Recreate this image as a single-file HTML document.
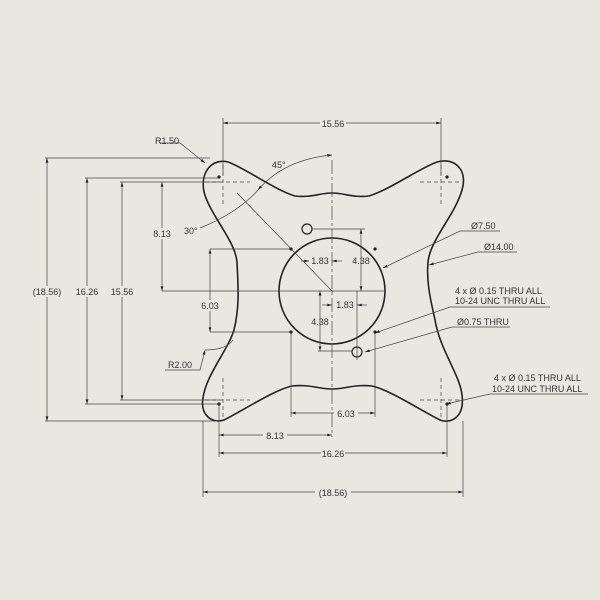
<!DOCTYPE html>
<html><head><meta charset="utf-8"><style>
html,body{margin:0;padding:0;background:#e8e8e1;}
svg{display:block;}
text{font-family:"Liberation Sans",sans-serif;font-size:9px;fill:#333;}
</style></head><body>
<svg width="600" height="600" viewBox="0 0 600 600" xmlns="http://www.w3.org/2000/svg">
<defs>
<marker id="a" viewBox="0 0 10 6" refX="10" refY="3" markerWidth="7" markerHeight="4" orient="auto-start-reverse"><path d="M0,0L10,3L0,6z" fill="#222"/></marker>
</defs>
<rect width="600" height="600" fill="#e8e8e1"/>
<g fill="none" stroke="#222" stroke-width="1.6">
<path d="M228,162 C245,168 275,190 295,196 C310,198 320,193 332,193 C344,193 354,198 369,196 C389,190 420,168 437,162 C455,157 468,170 462,190 C455,215 430,240 428,262 C426,285 432,305 435,320 C440,350 460,375 462,395 C465,418 450,424 440,420 C420,410 390,390 372,386 C355,384 345,389 332,389 C319,389 309,384 292,386 C274,390 244,410 224,420 C212,424 200,415 203,398 C206,375 228,350 234,330 C240,305 238,285 237,262 C235,240 210,215 204,192 C200,172 212,158 228,162 Z"/>
<circle cx="332" cy="291" r="53"/>
<circle cx="307" cy="229" r="5" stroke-width="1.2"/>
<circle cx="357" cy="352" r="5" stroke-width="1.2"/>
</g>
<g stroke="#444" stroke-width="0.7" fill="none">
<!-- dashed crosshairs -->
<g stroke-dasharray="4,3">
<path d="M223,165V205M205,182H250M441,165V205M420,182H460M223,378V418M205,400H250M441,378V418M420,400H460"/>
</g>
<path d="M332,160V437" stroke-dasharray="14,3,3,3"/>
<path d="M162,291H385"/>
<!-- top dim -->
<path d="M223,118V175M441,118V175"/>
<path d="M223,123H322M345,123H441" marker-start="url(#a)" marker-end="url(#a)"/>
<!-- left extension -->
<path d="M45,158H210M85,178H218M120,182H220M210,249H291M210,332H291M85,404H218M45,421H218M120,400H220"/>
<path d="M47,158V421" marker-start="url(#a)" marker-end="url(#a)"/>
<path d="M87,178V404" marker-start="url(#a)" marker-end="url(#a)"/>
<path d="M122,182V400" marker-start="url(#a)" marker-end="url(#a)"/>
<path d="M162,182V291" marker-start="url(#a)" marker-end="url(#a)"/>
<path d="M210,249V332" marker-start="url(#a)" marker-end="url(#a)"/>
<!-- bottom -->
<path d="M291,332V417M375,332V417M219,404V457M447,404V457M203,421V497M463,421V497"/>
<path d="M291,413H375" marker-start="url(#a)" marker-end="url(#a)"/>
<path d="M219,435H332" marker-start="url(#a)" marker-end="url(#a)"/>
<path d="M219,453H447" marker-start="url(#a)" marker-end="url(#a)"/>
<path d="M203,492H463" marker-start="url(#a)" marker-end="url(#a)"/>
<!-- inner dims -->
<path d="M312,229H365M318,351H352M357,291V360"/>
<path d="M361,229V291" marker-start="url(#a)" marker-end="url(#a)"/>
<path d="M320,291V351" marker-start="url(#a)" marker-end="url(#a)"/>
<path d="M301,261H309" marker-end="url(#a)"/><path d="M342,261H332" marker-end="url(#a)"/>
<path d="M322,305H332" marker-end="url(#a)"/><path d="M367,305H357" marker-end="url(#a)"/>
<!-- angle -->
<path d="M237,193L333,292"/>
<path d="M258,190 C275,170 300,158 332,155" marker-start="url(#a)" marker-end="url(#a)"/>
<path d="M200,228 C215,222 240,210 258,190"/>
<!-- leaders -->
<path d="M160,143H180L205,163" marker-end="url(#a)"/>
<path d="M165,370H200L205,350" marker-end="url(#a)"/>
<path d="M205,350 C215,350 228,348 233,340"/>
<path d="M500,231H460L383,268" marker-end="url(#a)"/>
<path d="M517,252H478L429,265" marker-end="url(#a)"/>
<path d="M550,307H450L375,333" marker-end="url(#a)"/>
<path d="M510,327H452L365,352" marker-end="url(#a)"/>
<path d="M588,394H490L446,404" marker-end="url(#a)"/>
</g>
<g fill="#222">
<circle cx="219" cy="177" r="1.6"/><circle cx="447" cy="177" r="1.6"/>
<circle cx="219" cy="404" r="1.6"/><circle cx="447" cy="404" r="1.6"/>
<circle cx="291" cy="249" r="1.6"/><circle cx="375" cy="249" r="1.6"/>
<circle cx="291" cy="332" r="1.6"/><circle cx="375" cy="332" r="1.6"/>
</g>
<g>
<rect x="320" y="118" width="26" height="10" fill="#e8e8e1"/>
<text x="333" y="127" text-anchor="middle">15.56</text>
<text x="155" y="144">R1.50</text>
<text x="272" y="168">45°</text>
<text x="184" y="234">30°</text>
<rect x="150" y="228" width="24" height="11" fill="#e8e8e1"/>
<text x="162" y="237" text-anchor="middle">8.13</text>
<rect x="30" y="286" width="34" height="11" fill="#e8e8e1"/>
<text x="47" y="295" text-anchor="middle">(18.56)</text>
<rect x="75" y="286" width="24" height="11" fill="#e8e8e1"/>
<text x="87" y="295" text-anchor="middle">16.26</text>
<rect x="110" y="286" width="24" height="11" fill="#e8e8e1"/>
<text x="122" y="295" text-anchor="middle">15.56</text>
<rect x="198" y="300" width="24" height="11" fill="#e8e8e1"/>
<text x="210" y="309" text-anchor="middle">6.03</text>
<text x="320" y="264" text-anchor="middle">1.83</text>
<text x="361" y="264" text-anchor="middle">4.38</text>
<text x="320" y="325" text-anchor="middle">4.38</text>
<text x="345" y="308" text-anchor="middle">1.83</text>
<text x="168" y="368">R2.00</text>
<rect x="334" y="408" width="24" height="11" fill="#e8e8e1"/>
<text x="346" y="417" text-anchor="middle">6.03</text>
<rect x="263" y="430" width="24" height="11" fill="#e8e8e1"/>
<text x="275" y="439" text-anchor="middle">8.13</text>
<rect x="321" y="448" width="24" height="11" fill="#e8e8e1"/>
<text x="333" y="457" text-anchor="middle">16.26</text>
<rect x="315" y="487" width="36" height="11" fill="#e8e8e1"/>
<text x="333" y="496" text-anchor="middle">(18.56)</text>
<text x="471" y="229">Ø7.50</text>
<text x="484" y="250">Ø14.00</text>
<text x="455" y="294">4 x  Ø 0.15 THRU ALL</text>
<text x="455" y="304">10-24 UNC  THRU ALL</text>
<text x="457" y="325">Ø0.75 THRU</text>
<text x="494" y="381">4 x  Ø 0.15 THRU ALL</text>
<text x="492" y="392">10-24 UNC  THRU ALL</text>
</g>
</svg>
</body></html>
